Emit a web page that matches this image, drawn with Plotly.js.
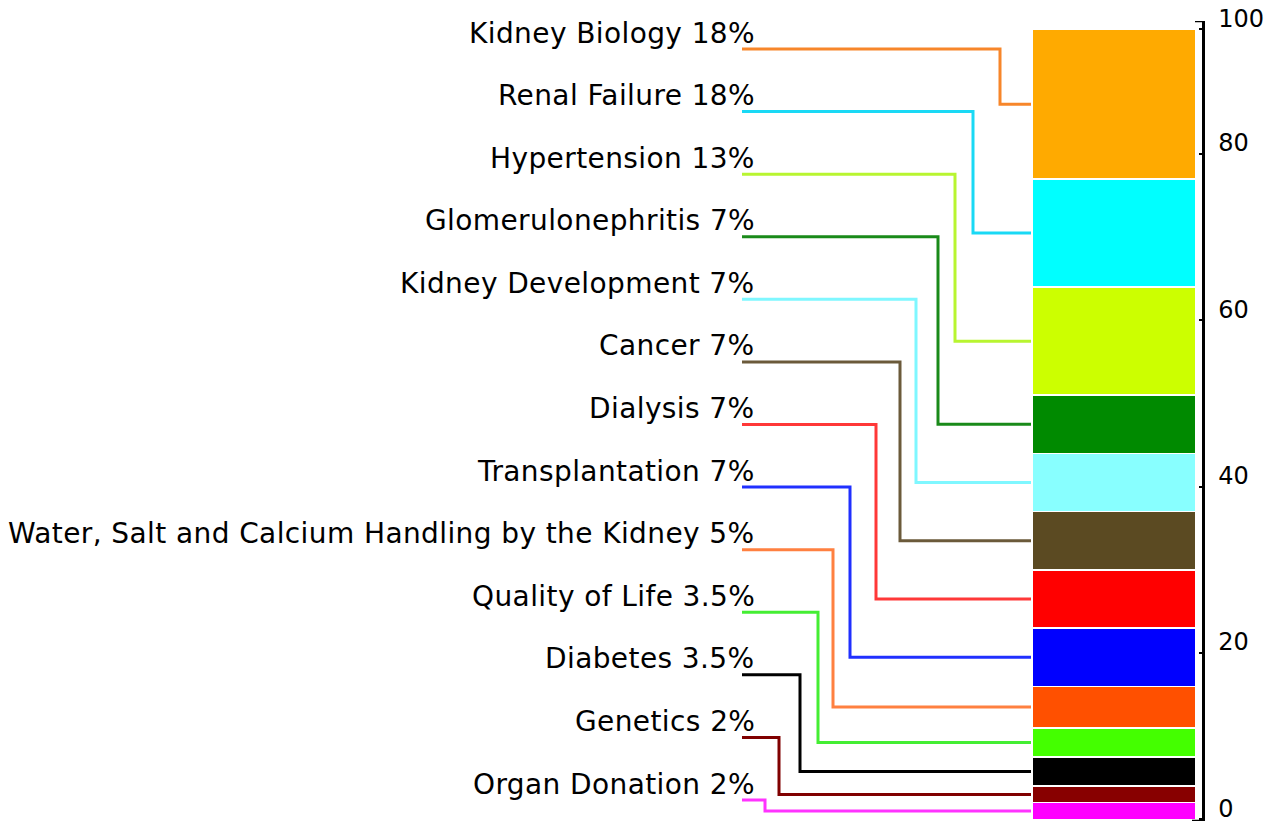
<!DOCTYPE html>
<html><head><meta charset="utf-8">
<script src="https://cdn.plot.ly/plotly-3.0.1.min.js"></script>
<style>html,body{margin:0;padding:0;background:#fff}
.annotation-text{letter-spacing:0.4px}</style>
</head><body><div id="chart" style="width:1276px;height:823px"></div>
<script>
// ---- data (top of the stack first) ----
const topics = ["Kidney Biology", "Renal Failure", "Hypertension", "Glomerulonephritis",
  "Kidney Development", "Cancer", "Dialysis", "Transplantation",
  "Water, Salt and Calcium Handling by the Kidney", "Quality of Life", "Diabetes",
  "Genetics", "Organ Donation"];
const labelPct = ["18%", "18%", "13%", "7%", "7%", "7%", "7%", "7%", "5%", "3.5%", "3.5%", "2%", "2%"];
const barValues = [18, 13, 13, 7, 7, 7, 7, 7, 5, 3.5, 3.5, 2, 2];
const barColors = ["#FFAA00", "#00FFFF", "#CCFF00", "#008A00", "#88FFFF", "#5B4A22",
  "#FF0000", "#0000FF", "#FF5000", "#44FF00", "#000000", "#880000", "#FF00FF"];
const lineColors = ["#F7862A", "#1AD9F5", "#B8F530", "#1A8A1A", "#7FF7FF", "#6B5A3A",
  "#FF3838", "#2030FF", "#FF8040", "#44EE33", "#000000", "#800000", "#FF33FF"];
const tickVals = [0, 20, 40, 60, 80, 95];
const tickText = ["0", "20", "40", "60", "80", "100"];

// ---- layout constants (pixels) ----
const W = 1276, H = 823;
const M = {l: 0, r: 74, t: 21, b: 2};
const plotW = W - M.l - M.r, plotH = H - M.t - M.b;
const yRange = [-0.2, 96];
const barLeftPx = 1032, barRightPx = 1196;
const barUnit = barRightPx - barLeftPx;
const xRange = [-0.5 - barLeftPx / barUnit, 0.5 + (plotW - barRightPx) / barUnit];
const labelRightPx = 757, lineStartPx = 742;
const slotTopPx = 49, slotBottomPx = 800;
const elbowPx = [1000, 973, 955, 938, 916, 900, 876, 850, 833, 818, 800, 779, 765];

const px2paper = px => (px - M.l) / plotW;
const py2val = py => yRange[0] + (M.t + plotH - py) / plotH * (yRange[1] - yRange[0]);

// bars: stack from bottom
const traces = [];
for (let i = barValues.length - 1; i >= 0; i--) {
  traces.push({
    type: "bar", x: [0], y: [barValues[i]], width: [1],
    name: topics[i], marker: {color: barColors[i], line: {color: "#FFFFFF", width: 1.5}},
    hoverinfo: "name+y", showlegend: false
  });
}

// cumulative centers for connector anchors
const n = barValues.length;
const total = barValues.reduce((a, b) => a + b, 0);
const anchors = [];
let stackTop = total;
for (let i = 0; i < n; i++) { anchors.push(stackTop - barValues[i] / 2); stackTop -= barValues[i]; }

const shapes = [], annotations = [];
const xBar = px2paper(barLeftPx - 1);
for (let i = 0; i < n; i++) {
  const slotPy = slotTopPx + i * (slotBottomPx - slotTopPx) / (n - 1);
  const yv = py2val(slotPy);
  const xs = px2paper(lineStartPx), xe = px2paper(elbowPx[i]);
  shapes.push({type: "path", xref: "paper", yref: "y",
    path: `M ${xs},${yv} L ${xe},${yv} L ${xe},${anchors[i]} L ${xBar},${anchors[i]}`,
    line: {color: lineColors[i], width: 3}, layer: "above"});
  annotations.push({xref: "paper", yref: "y", x: px2paper(labelRightPx), y: yv,
    xanchor: "right", yanchor: "middle", yshift: 16, showarrow: false,
    text: topics[i] + " " + labelPct[i],
    font: {family: "DejaVu Sans, Verdana, sans-serif", size: 28, color: "#000"}});
}
// axis bracket ends
shapes.push({type: "line", xref: "paper", yref: "y", x0: px2paper(1195), x1: 1.001, y0: yRange[1], y1: yRange[1], line: {color: "#000", width: 2.5}});
shapes.push({type: "line", xref: "paper", yref: "y", x0: px2paper(1192), x1: 1.001, y0: yRange[0], y1: yRange[0], line: {color: "#000", width: 2.5}});

const layout = {
  width: W, height: H, margin: M, paper_bgcolor: "#fff", plot_bgcolor: "#fff",
  barmode: "stack", showlegend: false,
  xaxis: {range: xRange, visible: false, fixedrange: true},
  yaxis: {side: "right", range: yRange, showline: true, linewidth: 2.5, linecolor: "#000",
    ticks: "inside", ticklen: 3, tickwidth: 2, tickcolor: "#000",
    tickvals: tickVals, ticktext: tickText, ticklabelshift: -11, ticklabelstandoff: 9,
    ticklabeloverflow: "allow",
    showgrid: false, zeroline: false, fixedrange: true,
    tickfont: {family: "DejaVu Sans, Verdana, sans-serif", size: 24, color: "#000"}},
  shapes: shapes, annotations: annotations
};
Plotly.newPlot("chart", traces, layout, {displayModeBar: false, staticPlot: true});
</script></body></html>
